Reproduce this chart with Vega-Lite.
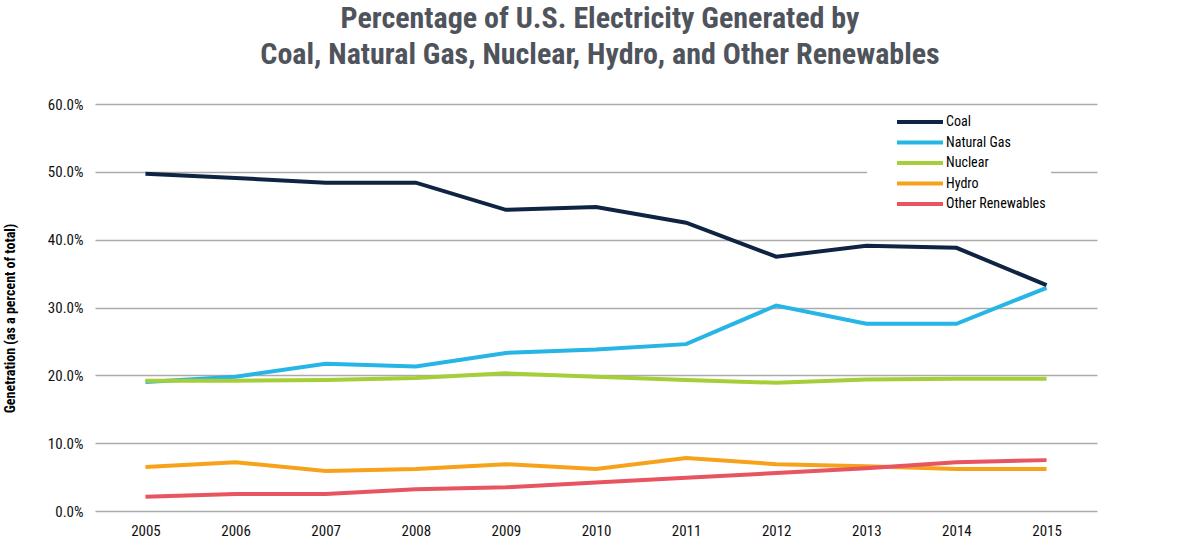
{
  "$schema": "https://vega.github.io/schema/vega-lite/v6.json",
  "width": 1002,
  "height": 407,
  "autosize": "none",
  "padding": {"left": 95, "top": 104, "right": 103, "bottom": 31},
  "background": "white",
  "config": {
    "view": {"stroke": null},
    "font": "Liberation Sans Narrow, Roboto Condensed, DejaVu Sans Condensed, Roboto, sans-serif"
  },
  "title": {
    "text": ["Percentage of U.S. Electricity Generated by", "Coal, Natural Gas, Nuclear, Hydro, and Other Renewables"],
    "font": "Liberation Sans Narrow, Roboto Condensed, DejaVu Sans Condensed, Roboto, sans-serif",
    "fontSize": 30,
    "fontWeight": "bold",
    "color": "#4f545c",
    "lineHeight": 36,
    "anchor": "middle",
    "offset": 27,
    "dx": 4
  },
  "data": {
    "values": [
      {"year": "2005", "source": "Hydro", "value": 6.5},
      {"year": "2006", "source": "Hydro", "value": 7.2},
      {"year": "2007", "source": "Hydro", "value": 5.9},
      {"year": "2008", "source": "Hydro", "value": 6.2},
      {"year": "2009", "source": "Hydro", "value": 6.9},
      {"year": "2010", "source": "Hydro", "value": 6.2},
      {"year": "2011", "source": "Hydro", "value": 7.8},
      {"year": "2012", "source": "Hydro", "value": 6.9},
      {"year": "2013", "source": "Hydro", "value": 6.6},
      {"year": "2014", "source": "Hydro", "value": 6.2},
      {"year": "2015", "source": "Hydro", "value": 6.2},
      {"year": "2005", "source": "Other Renewables", "value": 2.1},
      {"year": "2006", "source": "Other Renewables", "value": 2.5},
      {"year": "2007", "source": "Other Renewables", "value": 2.5},
      {"year": "2008", "source": "Other Renewables", "value": 3.2},
      {"year": "2009", "source": "Other Renewables", "value": 3.5},
      {"year": "2010", "source": "Other Renewables", "value": 4.2},
      {"year": "2011", "source": "Other Renewables", "value": 4.9},
      {"year": "2012", "source": "Other Renewables", "value": 5.6},
      {"year": "2013", "source": "Other Renewables", "value": 6.3},
      {"year": "2014", "source": "Other Renewables", "value": 7.2},
      {"year": "2015", "source": "Other Renewables", "value": 7.5},
      {"year": "2005", "source": "Natural Gas", "value": 19.0},
      {"year": "2006", "source": "Natural Gas", "value": 19.8},
      {"year": "2007", "source": "Natural Gas", "value": 21.7},
      {"year": "2008", "source": "Natural Gas", "value": 21.3},
      {"year": "2009", "source": "Natural Gas", "value": 23.3},
      {"year": "2010", "source": "Natural Gas", "value": 23.8},
      {"year": "2011", "source": "Natural Gas", "value": 24.6},
      {"year": "2012", "source": "Natural Gas", "value": 30.3},
      {"year": "2013", "source": "Natural Gas", "value": 27.6},
      {"year": "2014", "source": "Natural Gas", "value": 27.6},
      {"year": "2015", "source": "Natural Gas", "value": 32.9},
      {"year": "2005", "source": "Nuclear", "value": 19.2},
      {"year": "2006", "source": "Nuclear", "value": 19.2},
      {"year": "2007", "source": "Nuclear", "value": 19.3},
      {"year": "2008", "source": "Nuclear", "value": 19.6},
      {"year": "2009", "source": "Nuclear", "value": 20.3},
      {"year": "2010", "source": "Nuclear", "value": 19.8},
      {"year": "2011", "source": "Nuclear", "value": 19.3},
      {"year": "2012", "source": "Nuclear", "value": 18.9},
      {"year": "2013", "source": "Nuclear", "value": 19.4},
      {"year": "2014", "source": "Nuclear", "value": 19.5},
      {"year": "2015", "source": "Nuclear", "value": 19.5},
      {"year": "2005", "source": "Coal", "value": 49.7},
      {"year": "2006", "source": "Coal", "value": 49.1},
      {"year": "2007", "source": "Coal", "value": 48.4},
      {"year": "2008", "source": "Coal", "value": 48.4},
      {"year": "2009", "source": "Coal", "value": 44.4},
      {"year": "2010", "source": "Coal", "value": 44.8},
      {"year": "2011", "source": "Coal", "value": 42.5},
      {"year": "2012", "source": "Coal", "value": 37.5},
      {"year": "2013", "source": "Coal", "value": 39.1},
      {"year": "2014", "source": "Coal", "value": 38.8},
      {"year": "2015", "source": "Coal", "value": 33.3}
    ]
  },
  "mark": {"type": "line", "strokeWidth": 4, "strokeJoin": "miter"},
  "encoding": {
    "x": {
      "field": "year",
      "type": "ordinal",
      "scale": {"type": "point", "padding": 0.56},
      "axis": {
        "title": null,
        "labelAngle": 0,
        "labelFontSize": 15,
        "labelColor": "#111111",
        "labelPadding": 12,
        "ticks": false,
        "domain": false,
        "grid": false
      }
    },
    "y": {
      "field": "value",
      "type": "quantitative",
      "scale": {"domain": [0, 60], "nice": false},
      "axis": {
        "values": [0, 10, 20, 30, 40, 50, 60],
        "labelExpr": "format(datum.value, '.1f') + '%'",
        "labelFontSize": 15,
        "labelColor": "#111111",
        "labelPadding": 12,
        "ticks": false,
        "domain": false,
        "grid": true,
        "gridColor": "#ababab",
        "gridWidth": 1.5,
        "title": "Genetration (as a percent of total)",
        "titleFontSize": 14,
        "titleFontWeight": "bold",
        "titleColor": "#000000",
        "titleX": -78,
        "titleY": 214
      }
    },
    "color": {
      "field": "source",
      "type": "nominal",
      "scale": {
        "domain": ["Coal", "Natural Gas", "Nuclear", "Hydro", "Other Renewables"],
        "range": ["#0f2342", "#27b5e6", "#a6ce39", "#f7a21b", "#e8545f"]
      },
      "legend": {
        "title": null,
        "orient": "none",
        "legendX": 772,
        "legendY": 6,
        "fillColor": "white",
        "padding": 5,
        "symbolType": "M-4.6,0H4.6",
        "symbolStrokeWidth": 4,
        "symbolSize": 100,
        "symbolOffset": 41,
        "labelFontSize": 14,
        "labelColor": "#000000",
        "labelOffset": 19,
        "rowPadding": 4.5
      }
    }
  }
}
